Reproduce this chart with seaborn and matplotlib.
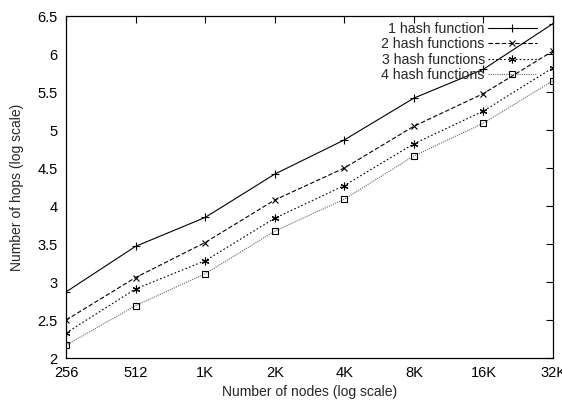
import matplotlib
matplotlib.use("Agg")
import matplotlib.pyplot as plt
import seaborn as sns
import pandas as pd

nodes = [256, 512, 1024, 2048, 4096, 8192, 16384, 32768]
node_labels = ["256", "512", "1K", "2K", "4K", "8K", "16K", "32K"]
hash1 = [2.87, 3.47, 3.85, 4.42, 4.87, 5.42, 5.80, 6.40]
hash2 = [2.50, 3.06, 3.52, 4.08, 4.50, 5.05, 5.48, 6.04]
hash3 = [2.33, 2.91, 3.28, 3.84, 4.27, 4.82, 5.25, 5.82]
hash4 = [2.17, 2.69, 3.11, 3.67, 4.09, 4.66, 5.09, 5.65]
series_names = ["1 hash function", "2 hash functions", "3 hash functions", "4 hash functions"]
y_ticks = [2, 2.5, 3, 3.5, 4, 4.5, 5, 5.5, 6, 6.5]
y_tick_labels = ["2", "2.5", "3", "3.5", "4", "4.5", "5", "5.5", "6", "6.5"]

sns.set_style("white")
plt.rcParams["font.family"] = ["Liberation Sans", "DejaVu Sans"]
plt.rcParams["font.size"] = 10

fig = plt.figure(figsize=(5.62, 4.01), dpi=100)
ax = fig.add_axes([0.1174, 0.107, 0.8666, 0.853])

colors = ["black", "black", "black", "#666666"]
linestyles = ["-", (0, (4, 2)), (0, (1.5, 2)), (0, (1, 1))]
markers = ["+", "x", (6, 2, 0), "s"]
msizes = [5.5, 5, 5.5, 4]

for name, vals, c, ls, m, ms in zip(series_names, [hash1, hash2, hash3, hash4],
                                    colors, linestyles, markers, msizes):
    df = pd.DataFrame({"nodes": nodes, "hops": vals})
    sns.lineplot(data=df, x="nodes", y="hops", ax=ax, color=c, linestyle=ls,
                 marker=m, linewidth=0.8, markersize=ms, markeredgewidth=0.8,
                 markeredgecolor="black",
                 markerfacecolor="none" if m == "s" else "black",
                 label=name)

ax.set_xscale("log", base=2)
ax.set_xlim(nodes[0], nodes[-1])
ax.set_xticks(nodes)
ax.set_xticklabels(node_labels)
ax.minorticks_off()
ax.set_ylim(2, 6.5)
ax.set_yticks(y_ticks)
ax.set_yticklabels(y_tick_labels)
ax.tick_params(direction="in", length=5, width=0.8, top=True, right=True,
               labelsize=10.5, pad=6, colors="black")
for s in ax.spines.values():
    s.set_color("black")
    s.set_linewidth(0.9)
ax.set_xlabel("Number of nodes (log scale)", fontsize=10, labelpad=3)
ax.set_ylabel("Number of hops (log scale)", fontsize=10, labelpad=10)

handles = ax.get_lines()[:4]
leg = ax.legend(handles, series_names, loc="upper right", frameon=False,
                markerfirst=False, handlelength=3.45, fontsize=10.2,
                borderaxespad=0.0, borderpad=0.3, labelspacing=0.1,
                handletextpad=0.2, bbox_to_anchor=(0.975, 0.995))

fig.savefig("out.png", dpi=100)
